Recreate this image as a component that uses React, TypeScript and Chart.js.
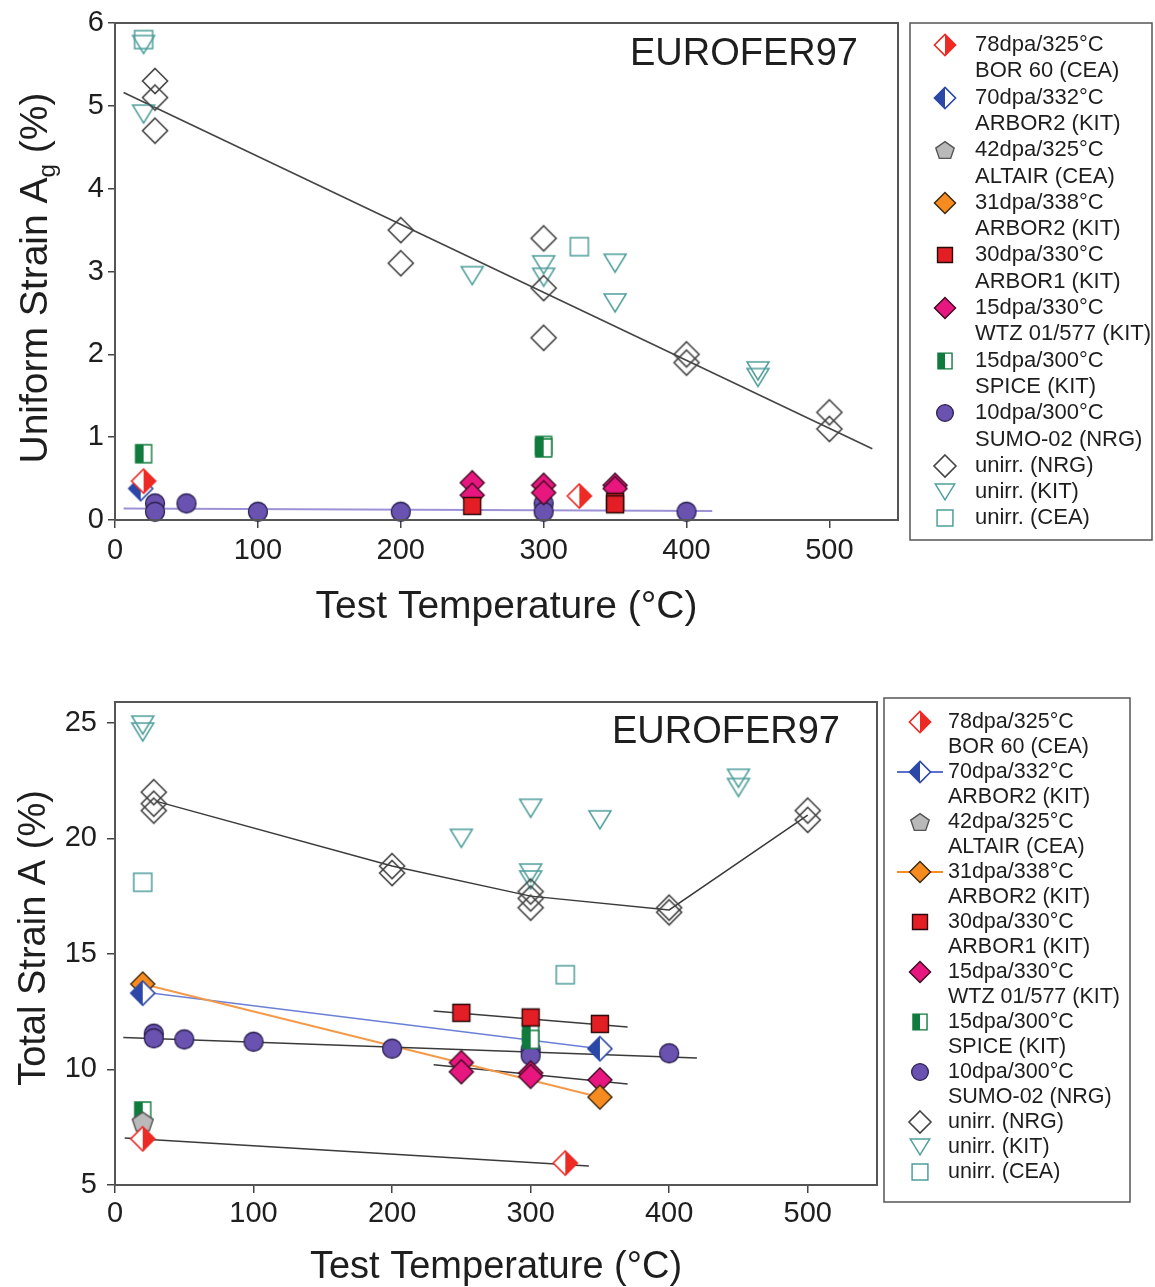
import React, { useEffect, useRef } from "react";
import { Chart, registerables } from "chart.js";

Chart.register(...registerables);

type P = [number, number];

// ---------- Series names (legend order) ----------
const SERIES_NAMES: string[][] = [
  ["78dpa/325°C", "BOR 60 (CEA)"],
  ["70dpa/332°C", "ARBOR2 (KIT)"],
  ["42dpa/325°C", "ALTAIR (CEA)"],
  ["31dpa/338°C", "ARBOR2 (KIT)"],
  ["30dpa/330°C", "ARBOR1 (KIT)"],
  ["15dpa/330°C", "WTZ 01/577 (KIT)"],
  ["15dpa/300°C", "SPICE (KIT)"],
  ["10dpa/300°C", "SUMO-02 (NRG)"],
  ["unirr. (NRG)"],
  ["unirr. (KIT)"],
  ["unirr. (CEA)"],
];

// ---------- Top chart: Uniform strain Ag (%) vs test temperature ----------
const U_BOR60: P[] = [[20, 0.47], [325, 0.29]];
const U_ARBOR2_70: P[] = [[18, 0.38]];
const U_ALTAIR: P[] = [];
const U_ARBOR2_31: P[] = [];
const U_ARBOR1: P[] = [[250, 0.17], [350, 0.22], [350, 0.19]];
const U_WTZ: P[] = [[250, 0.45], [250, 0.3], [300, 0.42], [300, 0.33], [350, 0.42], [350, 0.38]];
const U_SPICE: P[] = [[20, 0.8], [300, 0.9], [300, 0.87]];
const U_SUMO: P[] = [[28, 0.2], [28, 0.1], [50, 0.2], [100, 0.1], [200, 0.1], [300, 0.2], [300, 0.1], [400, 0.1]];
const U_NRG: P[] = [[28, 5.3], [28, 5.1], [28, 4.7], [200, 3.5], [200, 3.1], [300, 3.4], [300, 2.8], [300, 2.2], [400, 2.0], [400, 1.9], [500, 1.3], [500, 1.1]];
const U_KIT: P[] = [[20, 5.74], [20, 4.9], [250, 2.95], [300, 3.08], [300, 2.93], [350, 3.1], [350, 2.62], [450, 1.8], [450, 1.72]];
const U_CEA: P[] = [[20, 5.8], [325, 3.3]];
const U_FIT_NRG: P[] = [[6, 5.16], [530, 0.86]];
const U_FIT_SUMO: P[] = [[6, 0.14], [418, 0.11]];

// ---------- Bottom chart: Total strain A (%) vs test temperature ----------
const T_BOR60: P[] = [[20, 7.0], [325, 5.95]];
const T_ARBOR2_70: P[] = [[20, 13.3], [350, 10.9]];
const T_ALTAIR: P[] = [[20, 7.75]];
const T_ARBOR2_31: P[] = [[20, 13.7], [350, 8.8]];
const T_ARBOR1: P[] = [[250, 12.45], [300, 12.25], [350, 11.97]];
const T_WTZ: P[] = [[250, 10.3], [250, 9.9], [300, 9.85], [300, 9.7], [350, 9.55]];
const T_SPICE: P[] = [[20, 8.2], [300, 11.6], [300, 11.3]];
const T_SUMO: P[] = [[28, 11.55], [28, 11.35], [50, 11.3], [100, 11.2], [200, 10.9], [300, 10.85], [300, 10.6], [400, 10.7]];
const T_NRG: P[] = [[28, 22.0], [28, 21.5], [28, 21.2], [200, 18.8], [200, 18.5], [300, 17.7], [300, 17.4], [300, 17.0], [400, 17.0], [400, 16.8], [500, 21.2], [500, 20.8]];
const T_KIT: P[] = [[20, 24.9], [20, 24.6], [250, 20.0], [300, 21.3], [300, 18.5], [300, 18.2], [350, 20.8], [450, 22.6], [450, 22.2]];
const T_CEA: P[] = [[20, 18.1], [325, 14.1]];
const T_FIT_NRG: P[] = [[30, 21.6], [200, 18.8], [300, 17.5], [400, 16.9], [500, 21.0]];
const T_FIT_SUMO: P[] = [[6, 11.38], [420, 10.5]];
const T_FIT_ARBOR2_31: P[] = [[20, 13.7], [350, 8.8]];
const T_FIT_ARBOR2_70: P[] = [[20, 13.35], [350, 10.9]];
const T_FIT_ARBOR1: P[] = [[230, 12.53], [370, 11.84]];
const T_FIT_WTZ: P[] = [[230, 10.2], [370, 9.37]];
const T_FIT_BOR60: P[] = [[7, 7.03], [342, 5.82]];

// ---------- Ticks / text ----------
const X_TICKS = [0, 100, 200, 300, 400, 500];
const Y_TICKS_TOP = [0, 1, 2, 3, 4, 5, 6];
const Y_TICKS_BOTTOM = [5, 10, 15, 20, 25];
const X_TITLE = "Test Temperature (°C)";
const TOP_Y_TITLE: [string, boolean][] = [["Uniform Strain A", false], ["g", true], [" (%)", false]];
const BOTTOM_Y_TITLE: [string, boolean][] = [["Total Strain A (%)", false]];
const MATERIAL = "EUROFER97";

const FONT = "'Liberation Sans', Arial, Helvetica, sans-serif";
const TEXT = "#1e1e1e";

// ---------- Marker styles ----------
type Shape = "diamond" | "square" | "circle" | "triDown" | "pentagon";
interface Mk { shape: Shape; w: number; h: number; fill: string | null; stroke: string; lw: number; half?: "left" | "right"; }

const MARKERS: Mk[] = [
  { shape: "diamond", w: 24, h: 24, fill: "#ee2a24", stroke: "#ee2a24", lw: 1.6, half: "right" },
  { shape: "diamond", w: 24, h: 24, fill: "#2b48a8", stroke: "#2b48a8", lw: 1.6, half: "left" },
  { shape: "pentagon", w: 22, h: 21, fill: "#b9b9b9", stroke: "#555555", lw: 1.4 },
  { shape: "diamond", w: 24, h: 24, fill: "#f68b1f", stroke: "#3a2a10", lw: 1.4 },
  { shape: "square", w: 17, h: 17, fill: "#e31e24", stroke: "#2a0a0a", lw: 1.4 },
  { shape: "diamond", w: 24, h: 24, fill: "#e8177f", stroke: "#3a0c20", lw: 1.4 },
  { shape: "square", w: 16, h: 18, fill: "#0f7b3c", stroke: "#0f7b3c", lw: 1.4, half: "left" },
  { shape: "circle", w: 19, h: 19, fill: "#6a52b0", stroke: "#2a2050", lw: 1.3 },
  { shape: "diamond", w: 25, h: 25, fill: null, stroke: "#444444", lw: 1.6 },
  { shape: "triDown", w: 22, h: 18, fill: null, stroke: "#4f9f9a", lw: 1.5 },
  { shape: "square", w: 18, h: 18, fill: null, stroke: "#4f9f9a", lw: 1.5 },
];

function tracePath(ctx: CanvasRenderingContext2D, shape: Shape, cx: number, cy: number, w: number, h: number) {
  ctx.beginPath();
  if (shape === "diamond") {
    ctx.moveTo(cx, cy - h / 2);
    ctx.lineTo(cx + w / 2, cy);
    ctx.lineTo(cx, cy + h / 2);
    ctx.lineTo(cx - w / 2, cy);
    ctx.closePath();
  } else if (shape === "square") {
    ctx.rect(cx - w / 2, cy - h / 2, w, h);
  } else if (shape === "circle") {
    ctx.arc(cx, cy, w / 2, 0, Math.PI * 2);
  } else if (shape === "triDown") {
    ctx.moveTo(cx - w / 2, cy - h / 2);
    ctx.lineTo(cx + w / 2, cy - h / 2);
    ctx.lineTo(cx, cy + h / 2);
    ctx.closePath();
  } else {
    const r = w / 2;
    const dy = (r - r * Math.cos(Math.PI / 5)) / 2;
    for (let k = 0; k < 5; k++) {
      const a = -Math.PI / 2 + (k * 2 * Math.PI) / 5;
      const x = cx + r * Math.cos(a);
      const y = cy + dy + r * Math.sin(a) * (h / w);
      if (k === 0) ctx.moveTo(x, y);
      else ctx.lineTo(x, y);
    }
    ctx.closePath();
  }
}

function makeMarker(m: Mk, s = 1): HTMLCanvasElement {
  const w = m.w * s;
  const h = m.h * s;
  const c = document.createElement("canvas");
  c.width = 2 * Math.ceil((w + 6) / 2);
  c.height = 2 * Math.ceil((h + 6) / 2);
  const ctx = c.getContext("2d")!;
  const cx = c.width / 2;
  const cy = c.height / 2;
  tracePath(ctx, m.shape, cx, cy, w, h);
  if (m.half) {
    ctx.fillStyle = "#ffffff";
    ctx.fill();
    ctx.save();
    tracePath(ctx, m.shape, cx, cy, w, h);
    ctx.clip();
    ctx.fillStyle = m.fill!;
    if (m.half === "left") ctx.fillRect(0, 0, cx, c.height);
    else ctx.fillRect(cx, 0, c.width - cx, c.height);
    ctx.restore();
  } else if (m.fill) {
    ctx.fillStyle = m.fill;
    ctx.fill();
  }
  tracePath(ctx, m.shape, cx, cy, w, h);
  ctx.lineWidth = m.lw;
  ctx.strokeStyle = m.stroke;
  ctx.lineJoin = "miter";
  ctx.stroke();
  return c;
}

function markerDatasets(series: P[][]) {
  return series.map((pts, i) => ({
    type: "scatter" as const,
    label: SERIES_NAMES[i].join(" "),
    data: pts.map(([x, y]) => ({ x, y })),
    pointStyle: makeMarker(MARKERS[i]),
    pointRadius: 12,
    pointHoverRadius: 12,
    showLine: false,
    clip: false as any,
  }));
}

function fitDataset(pts: P[], color: string, width: number) {
  return {
    type: "scatter" as const,
    label: "",
    data: pts.map(([x, y]) => ({ x, y })),
    showLine: true,
    borderColor: color,
    borderWidth: width,
    pointRadius: 0,
    pointHoverRadius: 0,
    fill: false,
    tension: 0,
    clip: false as any,
  };
}

interface Layout {
  xMax: number; yMin: number; yMax: number; yTicks: number[];
  padTop: number; padRight: number; xHeight: number; yWidth: number;
  xTickLen: number; xTickPad: number; yTickLen: number; yTickPad: number;
  titleSize: number; titlePadBottom: number; tickSize: number;
}

function scalesCfg(L: Layout) {
  return {
    x: {
      type: "linear" as const,
      min: 0,
      max: L.xMax,
      afterBuildTicks: (s: any) => { s.ticks = X_TICKS.map((v) => ({ value: v })); },
      afterFit: (s: any) => { s.height = L.xHeight; },
      ticks: { font: { size: L.tickSize, family: FONT }, color: TEXT, padding: L.xTickPad, maxRotation: 0, autoSkip: false },
      grid: { drawOnChartArea: false, drawTicks: true, tickLength: L.xTickLen, color: "#444", lineWidth: 1.5 },
      border: { display: false },
      title: { display: true, text: X_TITLE, color: TEXT, font: { size: L.titleSize, family: FONT, lineHeight: 1 }, padding: { top: 0, bottom: L.titlePadBottom } },
    },
    y: {
      type: "linear" as const,
      min: L.yMin,
      max: L.yMax,
      afterBuildTicks: (s: any) => { s.ticks = L.yTicks.map((v) => ({ value: v })); },
      afterFit: (s: any) => { s.width = L.yWidth; },
      ticks: { font: { size: L.tickSize, family: FONT }, color: TEXT, padding: L.yTickPad, autoSkip: false },
      grid: { drawOnChartArea: false, drawTicks: true, tickLength: L.yTickLen, color: "#444", lineWidth: 1.5 },
      border: { display: false },
    },
  };
}

interface Decor {
  yTitle: [string, boolean][]; yTitleX: number; yTitleY: number; yTitleSize: number;
  matRight: number; matTop: number; matSize: number;
  box: [number, number, number, number]; mx: number; tx: number; y0: number; step: number; fs: number;
  legendScale: number; lineThrough: { idx: number; color: string; x0: number; x1: number }[];
}

function decorPlugin(D: Decor) {
  const legendMarkers = MARKERS.map((m) => makeMarker(m, D.legendScale));
  return {
    id: "decor",
    afterDraw(chart: any) {
      const ctx: CanvasRenderingContext2D = chart.ctx;
      const a = chart.chartArea;
      ctx.save();
      // plot frame
      ctx.strokeStyle = "#555";
      ctx.lineWidth = 2;
      ctx.strokeRect(a.left, a.top, a.right - a.left, a.bottom - a.top);
      // material label
      ctx.font = `${D.matSize}px ${FONT}`;
      ctx.fillStyle = TEXT;
      ctx.textAlign = "right";
      ctx.textBaseline = "middle";
      ctx.fillText(MATERIAL, a.right - D.matRight, a.top + D.matTop);
      // y title (with optional subscript)
      ctx.save();
      ctx.translate(D.yTitleX, D.yTitleY);
      ctx.rotate(-Math.PI / 2);
      ctx.textAlign = "left";
      ctx.textBaseline = "alphabetic";
      const widths = D.yTitle.map(([t, sub]) => {
        ctx.font = `${sub ? D.yTitleSize * 0.62 : D.yTitleSize}px ${FONT}`;
        return ctx.measureText(t).width;
      });
      const total = widths.reduce((p, c) => p + c, 0);
      let x = -total / 2;
      const base = D.yTitleSize * 0.358;
      D.yTitle.forEach(([t, sub], i) => {
        ctx.font = `${sub ? D.yTitleSize * 0.62 : D.yTitleSize}px ${FONT}`;
        ctx.fillText(t, x, sub ? base + D.yTitleSize * 0.2 : base);
        x += widths[i];
      });
      ctx.restore();
      // legend
      const [bx, by, bw, bh] = D.box;
      ctx.strokeStyle = "#555";
      ctx.lineWidth = 1.5;
      ctx.strokeRect(bx, by, bw, bh);
      let line = 0;
      SERIES_NAMES.forEach((names, i) => {
        const y = D.y0 + line * D.step;
        const lt = D.lineThrough.find((l) => l.idx === i);
        if (lt) {
          ctx.strokeStyle = lt.color;
          ctx.lineWidth = 2;
          ctx.beginPath();
          ctx.moveTo(lt.x0, y);
          ctx.lineTo(lt.x1, y);
          ctx.stroke();
        }
        const img = legendMarkers[i];
        ctx.drawImage(img, Math.round(D.mx - img.width / 2), Math.round(y - img.height / 2));
        ctx.font = `${D.fs}px ${FONT}`;
        ctx.fillStyle = TEXT;
        ctx.textAlign = "left";
        ctx.textBaseline = "middle";
        names.forEach((t, k) => ctx.fillText(t, D.tx, y + k * D.step));
        line += names.length;
      });
      ctx.restore();
    },
  };
}

function topConfig(): any {
  const L: Layout = {
    xMax: 548, yMin: 0, yMax: 6, yTicks: Y_TICKS_TOP,
    padTop: 23, padRight: 257, xHeight: 120, yWidth: 115,
    xTickLen: 8, xTickPad: 6, yTickLen: 7, yTickPad: 4,
    titleSize: 39, titlePadBottom: 13, tickSize: 29,
  };
  const D: Decor = {
    yTitle: TOP_Y_TITLE, yTitleX: 33, yTitleY: 278, yTitleSize: 39,
    matRight: 40, matTop: 32, matSize: 38,
    box: [910, 23, 242, 517], mx: 945, tx: 975, y0: 45, step: 26.3, fs: 22,
    legendScale: 0.88, lineThrough: [],
  };
  return {
    type: "scatter",
    data: {
      datasets: [
        ...markerDatasets([U_BOR60, U_ARBOR2_70, U_ALTAIR, U_ARBOR2_31, U_ARBOR1, U_WTZ, U_SPICE, U_SUMO, U_NRG, U_KIT, U_CEA]),
        fitDataset(U_FIT_NRG, "#444444", 1.6),
        fitDataset(U_FIT_SUMO, "#9d92d6", 2),
      ],
    },
    options: {
      responsive: false,
      maintainAspectRatio: false,
      devicePixelRatio: 1,
      animation: false,
      events: [],
      layout: { padding: { top: L.padTop, right: L.padRight, left: 0, bottom: 0 } },
      plugins: { legend: { display: false }, tooltip: { enabled: false }, title: { display: false } },
      scales: scalesCfg(L),
    },
    plugins: [decorPlugin(D)],
  };
}

function bottomConfig(): any {
  const L: Layout = {
    xMax: 550, yMin: 5, yMax: 25.9, yTicks: Y_TICKS_BOTTOM,
    padTop: 62, padRight: 278, xHeight: 102, yWidth: 115,
    xTickLen: 8, xTickPad: 4, yTickLen: 8, yTickPad: 10,
    titleSize: 38, titlePadBottom: 0, tickSize: 29,
  };
  const D: Decor = {
    yTitle: BOTTOM_Y_TITLE, yTitleX: 31, yTitleY: 298, yTitleSize: 38,
    matRight: 37, matTop: 31, matSize: 38,
    box: [884, 58, 246, 504], mx: 920, tx: 948, y0: 82, step: 25, fs: 21.5,
    legendScale: 0.88,
    lineThrough: [
      { idx: 1, color: "#5a6fd0", x0: 897, x1: 943 },
      { idx: 3, color: "#f68b1f", x0: 897, x1: 943 },
    ],
  };
  return {
    type: "scatter",
    data: {
      datasets: [
        ...markerDatasets([T_BOR60, T_ARBOR2_70, T_ALTAIR, T_ARBOR2_31, T_ARBOR1, T_WTZ, T_SPICE, T_SUMO, T_NRG, T_KIT, T_CEA]),
        fitDataset(T_FIT_NRG, "#3a3a3a", 1.5),
        fitDataset(T_FIT_SUMO, "#3a3a3a", 1.5),
        fitDataset(T_FIT_ARBOR2_31, "#f39a4a", 2),
        fitDataset(T_FIT_ARBOR2_70, "#6b7fd6", 1.5),
        fitDataset(T_FIT_ARBOR1, "#3a3a3a", 1.5),
        fitDataset(T_FIT_WTZ, "#3a3a3a", 1.5),
        fitDataset(T_FIT_BOR60, "#3a3a3a", 1.5),
      ],
    },
    options: {
      responsive: false,
      maintainAspectRatio: false,
      devicePixelRatio: 1,
      animation: false,
      events: [],
      layout: { padding: { top: L.padTop, right: L.padRight, left: 0, bottom: 0 } },
      plugins: { legend: { display: false }, tooltip: { enabled: false }, title: { display: false } },
      scales: scalesCfg(L),
    },
    plugins: [decorPlugin(D)],
  };
}

export default function App() {
  const topRef = useRef<HTMLCanvasElement>(null);
  const botRef = useRef<HTMLCanvasElement>(null);
  useEffect(() => {
    const c1 = new Chart(topRef.current!, topConfig());
    const c2 = new Chart(botRef.current!, bottomConfig());
    return () => {
      c1.destroy();
      c2.destroy();
    };
  }, []);
  return (
    <div style={{ position: "absolute", left: 0, top: 0, width: 1155, height: 1287, overflow: "hidden", background: "#fff" }}>
      <canvas ref={topRef} width={1155} height={640} style={{ position: "absolute", left: 0, top: 0, width: 1155, height: 640 }} />
      <canvas ref={botRef} width={1155} height={647} style={{ position: "absolute", left: 0, top: 640, width: 1155, height: 647 }} />
    </div>
  );
}
